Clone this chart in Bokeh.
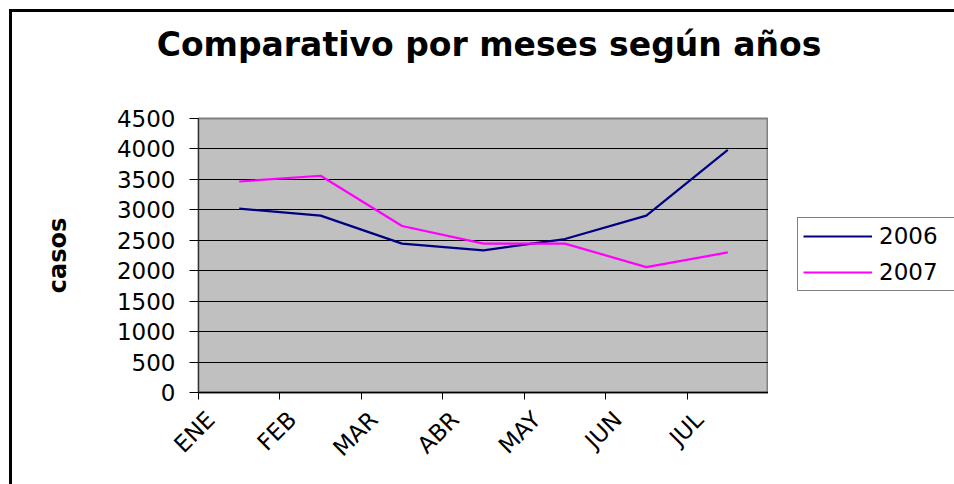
import math
from bokeh.plotting import figure
from bokeh.layouts import row, column
from bokeh.models import Range1d, FixedTicker, Legend, LegendItem
from bokeh.embed import file_html
from bokeh.resources import INLINE

# ---- data ----
months = ["ENE", "FEB", "MAR", "ABR", "MAY", "JUN", "JUL"]
casos_2006 = [3020, 2905, 2445, 2335, 2520, 2905, 3985]
casos_2007 = [3465, 3560, 2735, 2445, 2445, 2060, 2300]
y_ticks = [0, 500, 1000, 1500, 2000, 2500, 3000, 3500, 4000, 4500]
series_labels = ["2006", "2007"]
series_colors = ["#000080", "#FF00FF"]
title_text = "Comparativo por meses según años"

FONT = "DejaVu Sans"

x_centers = [i + 0.5 for i in range(len(months))]
label_pos = [i + 0.15 for i in range(len(months))]
boundaries = list(range(len(months) + 1))

TOP_PAD = 14  # room above the plot frame for the top tick label

# ---------------- title strip ----------------
t = figure(width=942, height=106 - TOP_PAD, output_backend="svg", toolbar_location=None,
           x_range=Range1d(0, 1), y_range=Range1d(0, 1),
           x_axis_type=None, y_axis_type=None,
           min_border_left=11, min_border_right=0, min_border_top=56,
           min_border_bottom=0)
t.grid.visible = False
t.outline_line_color = None
t.background_fill_color = "white"
t.border_fill_color = "white"
t.title.text = title_text
t.title.text_font = FONT
t.title.text_font_style = "bold"
t.title.text_font_size = "33px"
t.title.align = "center"
t.title.text_color = "black"
t.title.standoff = 10

# ---------------- main chart ----------------
p = figure(width=756, height=366 + TOP_PAD, output_backend="svg", toolbar_location=None,
           x_range=Range1d(0, len(months)), y_range=Range1d(0, 4500),
           min_border_left=186, min_border_right=0, min_border_top=TOP_PAD,
           min_border_bottom=92)

p.background_fill_color = "#C0C0C0"
p.border_fill_color = "white"
p.outline_line_color = "#808080"
p.outline_line_width = 2

# y axis
p.yaxis.ticker = FixedTicker(ticks=y_ticks)
p.yaxis.axis_label = "casos"
p.yaxis.axis_label_text_font = FONT
p.yaxis.axis_label_text_font_style = "bold"
p.yaxis.axis_label_text_font_size = "24px"
p.yaxis.axis_label_text_color = "black"
p.yaxis.axis_label_standoff = 42
p.yaxis.major_label_text_font = FONT
p.yaxis.major_label_text_font_size = "23px"
p.yaxis.major_label_text_color = "black"
p.yaxis.major_label_standoff = 14
p.yaxis.major_tick_out = 9
p.yaxis.major_tick_in = 0
p.yaxis.minor_tick_line_color = None
p.yaxis.axis_line_color = "#303030"
p.yaxis.axis_line_width = 1
p.yaxis.major_tick_line_color = "black"

# x axis
p.xaxis.ticker = FixedTicker(ticks=label_pos, minor_ticks=boundaries)
p.xaxis.major_label_overrides = {v: m for v, m in zip(label_pos, months)}
p.xaxis.major_label_orientation = math.pi / 4
p.xaxis.major_label_text_font = FONT
p.xaxis.major_label_text_font_size = "23px"
p.xaxis.major_label_text_color = "black"
p.xaxis.major_label_standoff = 15
p.xaxis.major_tick_line_color = None
p.xaxis.major_tick_out = 8
p.xaxis.major_tick_in = 0
p.xaxis.minor_tick_line_color = "black"
p.xaxis.minor_tick_out = 7
p.xaxis.minor_tick_in = 0
p.xaxis.axis_line_color = "black"
p.xaxis.axis_line_width = 1.5

# grid
p.xgrid.grid_line_color = None
p.ygrid.ticker = FixedTicker(ticks=y_ticks)
p.ygrid.grid_line_color = "black"
p.ygrid.grid_line_width = 1.2

p.line(x_centers, casos_2006, line_color=series_colors[0], line_width=2.2)
p.line(x_centers, casos_2007, line_color=series_colors[1], line_width=2.2)

# ---------------- legend panel ----------------
q = figure(width=186, height=366 + TOP_PAD, output_backend="svg", toolbar_location=None,
           x_range=Range1d(-10, -9), y_range=Range1d(-10, -9),
           x_axis_type=None, y_axis_type=None,
           min_border_left=0, min_border_right=0, min_border_top=TOP_PAD,
           min_border_bottom=92)
q.grid.visible = False
q.outline_line_color = None
q.background_fill_color = "white"
q.border_fill_color = "white"

# legend proxies (same series, outside this panel's view)
k1 = q.line(x_centers, casos_2006, line_color=series_colors[0], line_width=2)
k2 = q.line(x_centers, casos_2007, line_color=series_colors[1], line_width=2)

legend = Legend(items=[LegendItem(label=series_labels[0], renderers=[k1]),
                       LegendItem(label=series_labels[1], renderers=[k2])],
                location=(29, 101))
legend.label_text_font = FONT
legend.label_text_font_size = "23px"
legend.label_text_color = "black"
legend.glyph_width = 69
legend.glyph_height = 26
legend.spacing = 10
legend.padding = 5
legend.margin = 0
legend.label_standoff = 7
legend.label_width = 70
legend.border_line_color = "black"
legend.border_line_width = 1
legend.background_fill_color = "white"
legend.background_fill_alpha = 1
q.add_layout(legend, "center")

layout = column(t, row(p, q, spacing=0), spacing=0)
layout.styles = {"border-top": "3px solid black", "border-left": "3px solid black",
                 "margin-left": "9px", "margin-top": "9px"}

open("out.html", "w").write(file_html(layout, INLINE))
